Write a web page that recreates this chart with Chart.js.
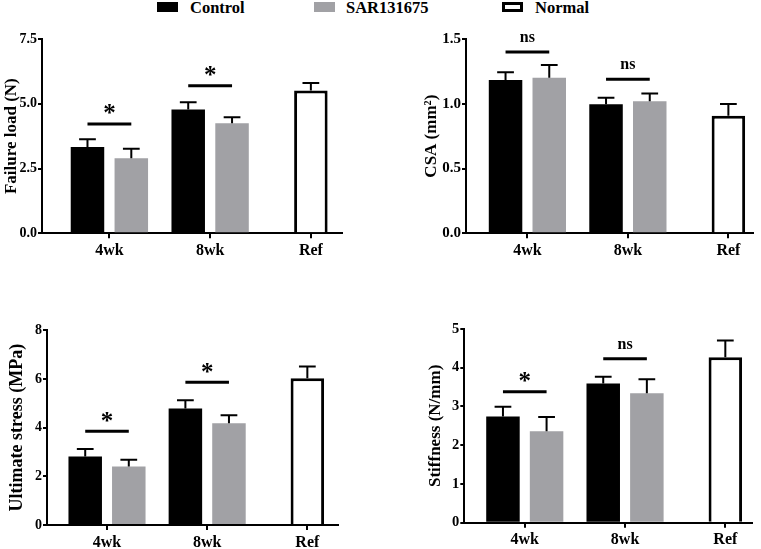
<!DOCTYPE html>
<html>
<head>
<meta charset="utf-8">
<script src="https://cdn.jsdelivr.net/npm/chart.js@4.4.1/dist/chart.umd.min.js"></script>
<style>
  html, body { margin: 0; padding: 0; background: #fff; }
  body {
    width: 761px; height: 549px; position: relative; overflow: hidden;
    font-family: 'Liberation Serif', 'DejaVu Serif', serif; font-weight: bold;
  }
  canvas { position: absolute; }
  .swatch { position: absolute; top: 2px; width: 21px; height: 10px; box-sizing: border-box; }
  .key { position: absolute; top: -1px; font-size: 16.5px; line-height: 17px; color: #000; white-space: nowrap; }
</style>
</head>
<body>
<div class="swatch" style="left:157px; background:#000;"></div>
<div class="key" style="left:190px;">Control</div>
<div class="swatch" style="left:314px; background:#a1a1a5;"></div>
<div class="key" style="left:346px;">SAR131675</div>
<div class="swatch" style="left:502px; background:#fff; border:3px solid #000;"></div>
<div class="key" style="left:535px;">Normal</div>

<canvas id="failChart" width="370" height="250" style="left:0; top:20px;"></canvas>
<canvas id="csaChart" width="381" height="250" style="left:380px; top:20px;"></canvas>
<canvas id="stressChart" width="370" height="259" style="left:0; top:290px;"></canvas>
<canvas id="stiffChart" width="381" height="259" style="left:380px; top:290px;"></canvas>

<script>
const groups = ['4wk', '8wk', 'Ref'];
const seriesNames = ['Control', 'SAR131675', 'Normal'];

// Failure load (N)
const failControl = [3.33, 4.78, null];
const failControlErr = [0.30, 0.28, null];
const failSar = [2.90, 4.25, null];
const failSarErr = [0.36, 0.23, null];
const failNormal = [null, null, 5.51];
const failNormalErr = [null, null, 0.29];
const failSig = ['*', '*'];
const failSigLevel = [4.22, 5.70];

// CSA (mm2)
const csaControl = [1.184, 0.996, null];
const csaControlErr = [0.06, 0.05, null];
const csaSar = [1.20, 1.02, null];
const csaSarErr = [0.10, 0.06, null];
const csaNormal = [null, null, 0.908];
const csaNormalErr = [null, null, 0.09];
const csaSig = ['ns', 'ns'];
const csaSigLevel = [1.40, 1.19];

// Ultimate stress (MPa)
const stressControl = [2.81, 4.79, null];
const stressControlErr = [0.31, 0.34, null];
const stressSar = [2.40, 4.18, null];
const stressSarErr = [0.28, 0.33, null];
const stressNormal = [null, null, 6.03];
const stressNormalErr = [null, null, 0.48];
const stressSig = ['*', '*'];
const stressSigLevel = [3.85, 5.87];

// Stiffness (N/mm)
const stiffControl = [2.74, 3.59, null];
const stiffControlErr = [0.25, 0.18, null];
const stiffSar = [2.36, 3.34, null];
const stiffSarErr = [0.37, 0.36, null];
const stiffNormal = [null, null, 4.27];
const stiffNormalErr = [null, null, 0.43];
const stiffSig = ['*', 'ns'];
const stiffSigLevel = [3.38, 4.23];

const FONT = "'Liberation Serif', 'DejaVu Serif', serif";
Chart.defaults.font.family = FONT;
Chart.defaults.font.weight = 'bold';
Chart.defaults.color = '#000';

// upward-only error bars with a cap half as wide as the bar
const errorBars = {
  id: 'errorBars',
  afterDatasetsDraw(chart) {
    const { ctx } = chart;
    const y = chart.scales.y;
    ctx.save();
    ctx.strokeStyle = '#000';
    ctx.lineWidth = 2;
    chart.data.datasets.forEach((ds, i) => {
      chart.getDatasetMeta(i).data.forEach((bar, j) => {
        const v = ds.data[j];
        const e = ds.errors[j];
        if (v == null || e == null) return;
        const top = y.getPixelForValue(v + e);
        const half = bar.width / 4;
        ctx.beginPath();
        ctx.moveTo(bar.x, bar.y);
        ctx.lineTo(bar.x, top);
        ctx.moveTo(bar.x - half, top);
        ctx.lineTo(bar.x + half, top);
        ctx.stroke();
      });
    });
    ctx.restore();
  }
};

// significance bar between Control and SAR of each group
function sigBars(marks, levels) {
  return {
    id: 'sigBars',
    afterDatasetsDraw(chart) {
      const { ctx } = chart;
      const y = chart.scales.y;
      const a = chart.getDatasetMeta(0).data;
      const b = chart.getDatasetMeta(1).data;
      ctx.save();
      ctx.strokeStyle = '#000';
      ctx.fillStyle = '#000';
      ctx.lineWidth = 3;
      ctx.textAlign = 'center';
      ctx.textBaseline = 'alphabetic';
      marks.forEach((m, j) => {
        const yy = y.getPixelForValue(levels[j]);
        const x1 = a[j].x, x2 = b[j].x;
        ctx.beginPath();
        ctx.moveTo(x1, yy);
        ctx.lineTo(x2, yy);
        ctx.stroke();
        if (m === '*') {
          ctx.font = 'bold 25px ' + FONT;
          ctx.fillText(m, (x1 + x2) / 2, yy - 2.5);
        } else {
          ctx.font = 'bold 16px ' + FONT;
          ctx.fillText(m, (x1 + x2) / 2, yy - 10);
        }
      });
      ctx.restore();
    }
  };
}

function makePanel(id, p) {
  return new Chart(document.getElementById(id), {
    type: 'bar',
    data: {
      labels: groups.map((g, i) => i),
      datasets: [
        { label: seriesNames[0], data: p.control, errors: p.controlErr, backgroundColor: '#000', borderWidth: 0 },
        { label: seriesNames[1], data: p.sar, errors: p.sarErr, backgroundColor: '#a1a1a5', borderWidth: 0 },
        { label: seriesNames[2], data: p.normal, errors: p.normalErr, backgroundColor: '#fff', borderColor: '#000', borderWidth: 3 }
      ]
    },
    options: {
      responsive: false,
      animation: false,
      events: [],
      skipNull: true,
      categoryPercentage: 0.87,
      barPercentage: 1,
      maxBarThickness: 33.5,
      layout: { padding: { left: 0, top: p.padTop, right: p.padRight, bottom: 0 } },
      plugins: { legend: { display: false }, tooltip: { enabled: false } },
      scales: {
        x: {
          type: 'linear',
          bounds: 'data',
          offset: false,
          min: p.xMin,
          max: p.xMax,
          afterBuildTicks: s => { s.ticks = groups.map((g, i) => ({ value: i })); },
          afterFit: s => { s.height = p.xHeight; },
          border: { color: '#000', width: 2 },
          grid: { offset: false, drawOnChartArea: false, color: '#000', lineWidth: 2, tickLength: 5 },
          ticks: {
            autoSkip: false, maxRotation: 0, padding: 3,
            font: { size: 16, weight: 'bold' },
            callback: v => groups[v] ?? ''
          }
        },
        y: {
          min: 0,
          max: p.yMax,
          afterFit: s => { s.width = p.yWidth; },
          border: { color: '#000', width: 2 },
          grid: { drawOnChartArea: false, color: '#000', lineWidth: 2, tickLength: 4 },
          ticks: {
            stepSize: p.yStep, padding: 1,
            font: { size: p.tickSize, weight: 'bold' },
            callback: v => v.toFixed(p.dec)
          },
          title: {
            display: true,
            text: p.title,
            padding: { top: p.titlePad, bottom: 0 },
            font: { size: p.titleSize, weight: 'bold' }
          }
        }
      }
    },
    plugins: [errorBars, sigBars(p.sig, p.sigLevel)]
  });
}

makePanel('failChart', {
  control: failControl, controlErr: failControlErr, sar: failSar, sarErr: failSarErr,
  normal: failNormal, normalErr: failNormalErr, sig: failSig, sigLevel: failSigLevel,
  title: 'Failure load (N)', yMax: 7.5, yStep: 2.5, dec: 1,
  padTop: 19, padRight: 28, yWidth: 42, xHeight: 36.7, xMin: -0.669, xMax: 2.309,
  titlePad: 1, titleSize: 17, tickSize: 14
});

makePanel('csaChart', {
  control: csaControl, controlErr: csaControlErr, sar: csaSar, sarErr: csaSarErr,
  normal: csaNormal, normalErr: csaNormalErr, sig: csaSig, sigLevel: csaSigLevel,
  title: 'CSA (mm²)', yMax: 1.5, yStep: 0.5, dec: 1,
  padTop: 19, padRight: 8.3, yWidth: 86, xHeight: 36.7, xMin: -0.611, xMax: 2.242,
  titlePad: 41.7, titleSize: 17, tickSize: 15
});

makePanel('stressChart', {
  control: stressControl, controlErr: stressControlErr, sar: stressSar, sarErr: stressSarErr,
  normal: stressNormal, normalErr: stressNormalErr, sig: stressSig, sigLevel: stressSigLevel,
  title: 'Ultimate stress (MPa)', yMax: 8, yStep: 2, dec: 0,
  padTop: 40.3, padRight: 32, yWidth: 47, xHeight: 24, xMin: -0.599, xMax: 2.306,
  titlePad: 6.4, titleSize: 18, tickSize: 14
});

makePanel('stiffChart', {
  control: stiffControl, controlErr: stiffControlErr, sar: stiffSar, sarErr: stiffSarErr,
  normal: stiffNormal, normalErr: stiffNormalErr, sig: stiffSig, sigLevel: stiffSigLevel,
  title: 'Stiffness (N/mm)', yMax: 5, yStep: 1, dec: 0,
  padTop: 39, padRight: 9.3, yWidth: 84.3, xHeight: 26.3, xMin: -0.603, xMax: 2.263,
  titlePad: 45, titleSize: 17, tickSize: 14.5
});
</script>
</body>
</html>
